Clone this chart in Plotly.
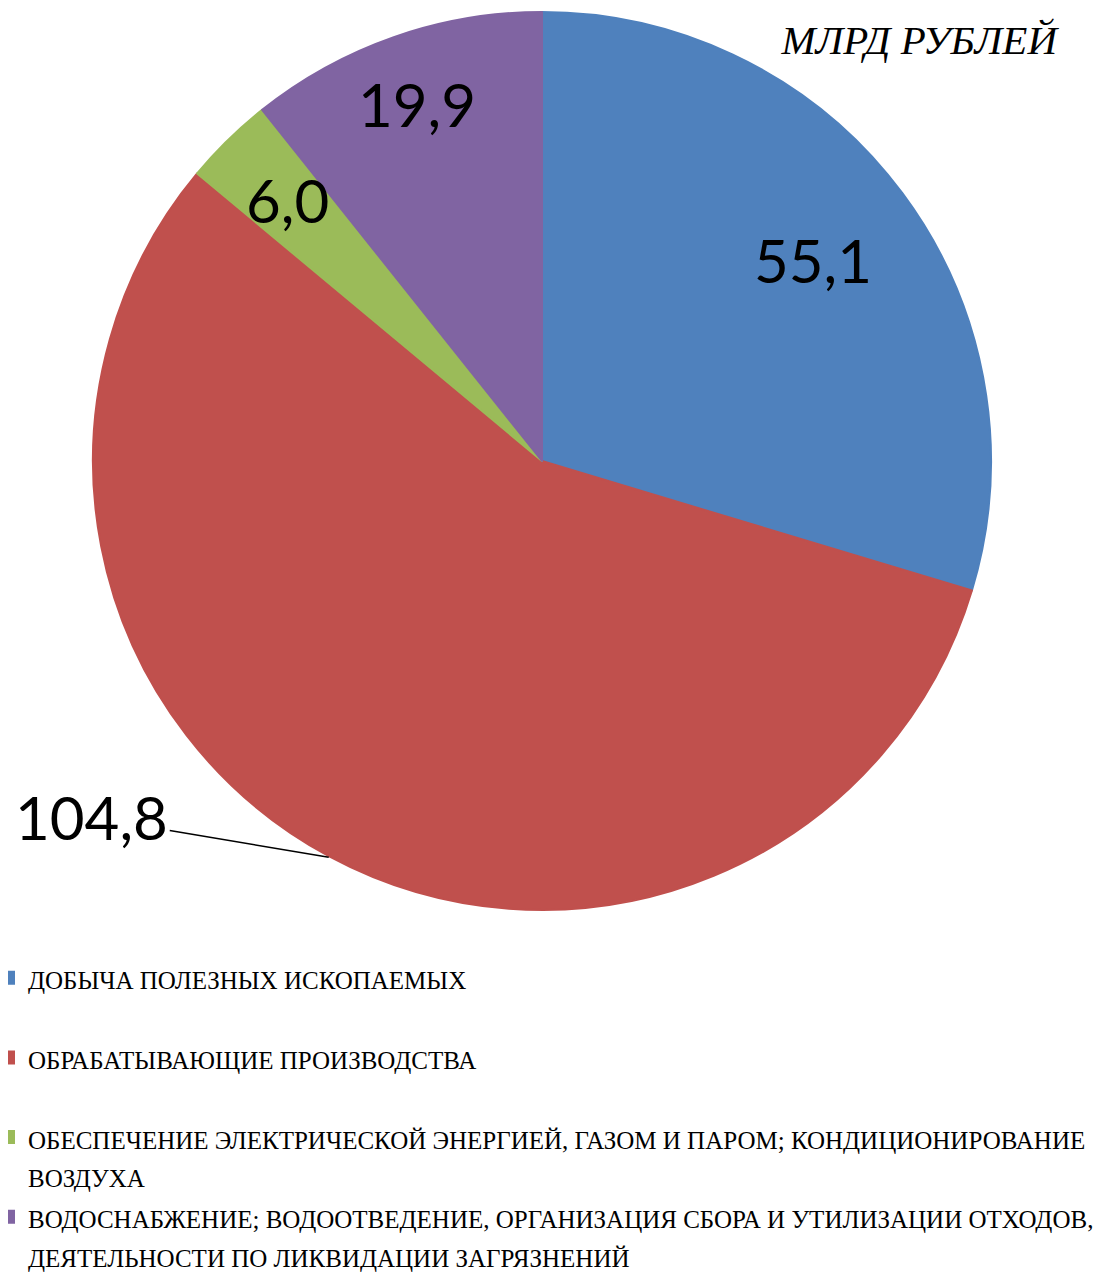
import math
import plotly.graph_objects as go

# ---- data ----
categories = [
    "ДОБЫЧА ПОЛЕЗНЫХ ИСКОПАЕМЫХ",
    "ОБРАБАТЫВАЮЩИЕ ПРОИЗВОДСТВА",
    "ОБЕСПЕЧЕНИЕ ЭЛЕКТРИЧЕСКОЙ ЭНЕРГИЕЙ, ГАЗОМ И ПАРОМ; КОНДИЦИОНИРОВАНИЕ<br>ВОЗДУХА",
    "ВОДОСНАБЖЕНИЕ; ВОДООТВЕДЕНИЕ, ОРГАНИЗАЦИЯ СБОРА И УТИЛИЗАЦИИ ОТХОДОВ,<br>ДЕЯТЕЛЬНОСТИ ПО ЛИКВИДАЦИИ ЗАГРЯЗНЕНИЙ",
]
values = [55.1, 104.8, 6.0, 19.9]
value_labels = ["55,1", "104,8", "6,0", "19,9"]
title_text = "МЛРД РУБЛЕЙ"

# ---- style ----
colors = ["#4F81BD", "#C0504D", "#9BBB59", "#8064A2"]
W, H = 1109, 1274
PAGE_OFFSET = 8                                 # default body margin of the html page
PIE_CX, PIE_CY, PIE_R = 542, 461, 450          # target page pixels
label_radius = [0.75, 1.0, 0.81, 0.84]          # fraction of radius for label placement
label_outside = [False, True, False, False]
outside_offset = (-237, -40)                    # px offset of outside label from pie edge
LABEL_FONT = dict(family="Lato, Open Sans, sans-serif", size=60, color="black")
LEG_FONT_PX = 25


def px_to_paper(x, y):
    return (x - PAGE_OFFSET) / W, 1 - (y - PAGE_OFFSET) / H


# legend names: single-line entries padded with an empty second line
legend_names = []
for c in categories:
    name = c if "<br>" in c else c + "<br>&nbsp;"
    legend_names.append(f'<span style="font-size:{LEG_FONT_PX}px">{name}</span>')

x0, y1 = px_to_paper(PIE_CX - PIE_R + 1, PIE_CY - PIE_R + 1)
x1, y0 = px_to_paper(PIE_CX + PIE_R - 1, PIE_CY + PIE_R - 1)

fig = go.Figure(go.Pie(
    labels=legend_names,
    values=values,
    sort=False,
    direction="clockwise",
    rotation=0,
    marker=dict(colors=colors, line=dict(width=2, color=colors)),
    textinfo="none",
    textposition="none",
    hoverinfo="skip",
    domain=dict(x=[x0, x1], y=[y0, y1]),
))

# data labels placed at slice mid-angles computed from values
total = sum(values)
cum = 0.0
annotations = []
for v, lab, rf, out in zip(values, value_labels, label_radius, label_outside):
    mid = (cum + v / 2) / total * 2 * math.pi
    cum += v
    px = PIE_CX + rf * PIE_R * math.sin(mid)
    py = PIE_CY - rf * PIE_R * math.cos(mid)
    xp, yp = px_to_paper(px, py)
    if out:
        annotations.append(dict(
            x=xp, y=yp, xref="paper", yref="paper", text=lab, font=LABEL_FONT,
            showarrow=True, arrowhead=0, arrowwidth=1.5, arrowcolor="black",
            ax=outside_offset[0], ay=outside_offset[1], standoff=0,
        ))
    else:
        annotations.append(dict(
            x=xp, y=yp, xref="paper", yref="paper", text=lab, font=LABEL_FONT,
            showarrow=False, xanchor="center", yanchor="middle",
        ))

tx, ty = px_to_paper(1057, 40)
lx, ly = px_to_paper(-12, 952)

fig.update_layout(
    width=W, height=H,
    margin=dict(l=0, r=0, t=0, b=0, autoexpand=False),
    paper_bgcolor="white",
    plot_bgcolor="white",
    title=dict(
        text=title_text,
        font=dict(family="Liberation Serif, serif", size=41, style="italic", color="black"),
        x=tx, xanchor="right", xref="paper",
        y=ty, yanchor="middle", yref="paper",
    ),
    showlegend=True,
    legend=dict(
        orientation="v",
        x=lx, xanchor="left",
        y=ly, yanchor="top",
        font=dict(family="Liberation Serif, serif", size=29.5, color="black"),
        valign="top",
        traceorder="normal",
        bgcolor="rgba(0,0,0,0)",
    ),
    annotations=annotations,
)

fig.write_html("out.html")
